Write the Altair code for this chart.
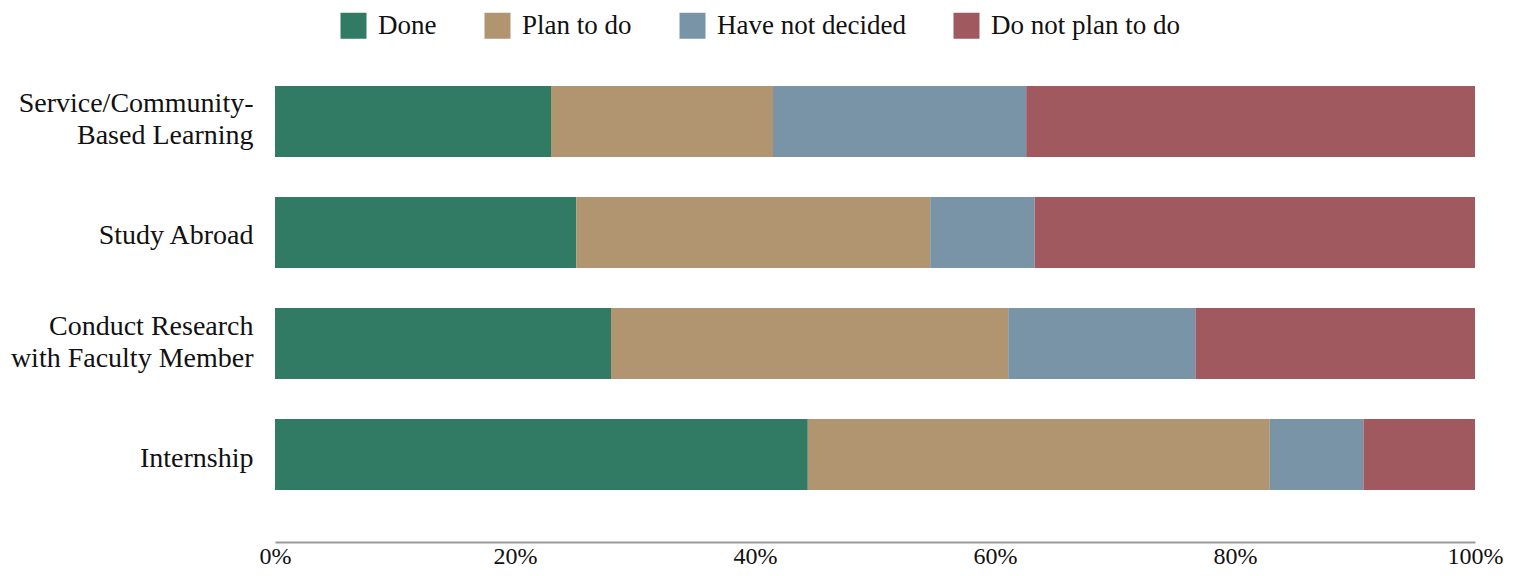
import altair as alt
import pandas as pd

categories = ["Service/Community-|Based Learning", "Study Abroad",
              "Conduct Research |with Faculty Member", "Internship"]
statuses = ["Done", "Plan to do", "Have not decided", "Do not plan to do"]
colors = ["#317b64", "#b19470", "#7994a7", "#a15960"]
done = [23.0, 25.1, 28.0, 44.4]
plan = [18.5, 29.5, 33.1, 38.5]
undecided = [21.1, 8.7, 15.6, 7.8]
not_plan = [37.4, 36.7, 23.3, 9.3]

rows = []
for i, c in enumerate(categories):
    for j, (s, vals) in enumerate(zip(statuses, [done, plan, undecided, not_plan])):
        rows.append({"category": c, "status": s, "value": vals[i], "order": j})
df = pd.DataFrame(rows)

FONT = "Liberation Serif"

chart = alt.Chart(df).mark_bar().encode(
    y=alt.Y("category:N", sort=categories, title=None,
            scale=alt.Scale(paddingInner=0.36, paddingOuter=0.306, align=0.235),
            axis=alt.Axis(labelExpr="split(datum.label, '|')", labelFontSize=28,
                          labelLineHeight=32, labelPadding=22, ticks=False,
                          domain=False, labelFont=FONT, labelColor="#111",
                          labelLimit=400,
                          labelOffset={"condition": {"test": "indexof(datum.value, '|') >= 0",
                                                     "value": -17},
                                       "value": 4})),
    x=alt.X("value:Q", stack="zero", title=None,
            scale=alt.Scale(domain=[0, 100], nice=False),
            axis=alt.Axis(values=[0, 20, 40, 60, 80, 100], labelExpr="datum.value + '%'",
                          grid=False, ticks=False, domainColor="#999999", domainWidth=2,
                          labelFontSize=24, labelFont=FONT, labelColor="#111",
                          labelPadding=2, labelFlush=False)),
    color=alt.Color("status:N", sort=statuses,
                    scale=alt.Scale(domain=statuses, range=colors),
                    legend=alt.Legend(title=None, orient="none", direction="horizontal",
                                      legendX=65, legendY=-58, symbolType="square",
                                      symbolSize=676, symbolStrokeWidth=0,
                                      labelFontSize=27, labelFont=FONT, labelColor="#111",
                                      labelOffset=11, columnPadding=47, symbolOpacity=1,
                                      labelLimit=400)),
    order=alt.Order("order:Q"),
).properties(
    width=1200, height=472,
    autosize=alt.AutoSizeParams(type="none"),
    padding={"left": 267, "top": 62, "right": 40, "bottom": 26},
).configure_view(stroke=None)

chart.save("out.html", embed_options={"renderer": "svg", "actions": False})
